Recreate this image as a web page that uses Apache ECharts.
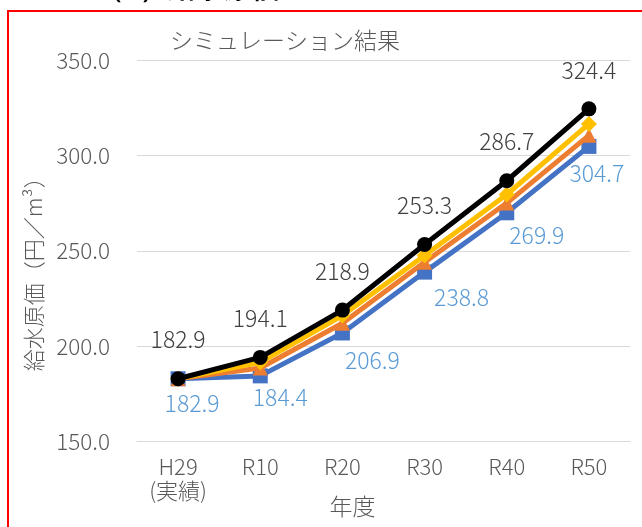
<!DOCTYPE html>
<html><head><meta charset="utf-8">
<script src="https://cdn.jsdelivr.net/npm/echarts@6/dist/echarts.min.js"></script>
<style>html,body{margin:0;padding:0;background:#fff}#c{width:642px;height:527px}</style>
</head><body><div id="c"></div>
<script>
var categories = ['H29\n(実績)', 'R10', 'R20', 'R30', 'R40', 'R50'];
var seriesNames = ['ケース1', 'ケース2', 'ケース3', 'ケース4'];
var blueValues = [182.9, 184.4, 206.9, 238.8, 269.9, 304.7];
var orangeValues = [182.9, 188.5, 212.0, 244.0, 275.0, 310.5];
var yellowValues = [182.9, 191.5, 216.0, 247.5, 279.5, 316.5];
var blackValues = [182.9, 194.1, 218.9, 253.3, 286.7, 324.4];
var yTicks = [150, 200, 250, 300, 350];

var blueLabelOffsets = [[14, 0], [20, -4], [30, 2], [37, 0], [30, -3], [8, 2]];

var font = '"Noto Sans CJK JP", "Noto Sans", sans-serif';
var chart = echarts.init(document.getElementById('c'), null, {renderer: 'canvas'});

function mk(name, vals, color, symbol, size, z) {
  return {
    name: name, type: 'line', data: vals, color: color,
    symbol: symbol, symbolSize: size, showAllSymbol: true, z: z,
    lineStyle: {color: color, width: 5},
    itemStyle: {color: color},
    emphasis: {disabled: true}
  };
}

var sBlue = mk(seriesNames[0], blueValues.map(function (v, i) {
  return {value: v, label: {show: true, position: 'bottom', distance: 6, offset: blueLabelOffsets[i]}};
}), '#4472C4', 'rect', 15, 2);
sBlue.label = {color: '#5B9BD5', fontSize: 23, fontWeight: 300, fontFamily: font};
var sOrange = mk(seriesNames[1], orangeValues, '#ED7D31', 'triangle', 15, 3);
var sYellow = mk(seriesNames[2], yellowValues, '#FFC000', 'diamond', 16, 4);
var sBlack = mk(seriesNames[3], blackValues, '#000000', 'circle', 15, 5);
sBlack.label = {show: true, position: 'top', distance: 20, color: '#404040', fontSize: 23, fontWeight: 300, fontFamily: font};

chart.setOption({
  animation: false,
  backgroundColor: '#fff',
  textStyle: {fontFamily: font},
  title: {
    text: 'シミュレーション結果', left: 280, top: 24, textAlign: 'center',
    textStyle: {fontSize: 23, fontWeight: 300, color: '#595959', fontFamily: font}
  },
  graphic: [
    {type: 'rect', shape: {x: 8, y: 11, width: 700, height: 600}, style: {fill: 'none', stroke: '#FF0000', lineWidth: 2}, z: 100},
    {type: 'text', x: 96, y: 3, style: {text: '（1）給水原価', fontSize: 28, fontWeight: 'bold', fill: '#000', textVerticalAlign: 'bottom', font: 'bold 28px "Noto Sans CJK JP"'}}
  ],
  grid: {left: 137, right: 12, top: 60, bottom: 85.5, containLabel: false, outerBoundsMode: 'none'},
  xAxis: {
    type: 'category', data: categories, boundaryGap: true,
    axisLine: {show: true, lineStyle: {color: '#d9d9d9', width: 1}},
    axisTick: {show: false},
    axisLabel: {color: '#595959', fontSize: 22, fontWeight: 300, fontFamily: font, margin: 13, lineHeight: 24},
    name: '年度', nameLocation: 'middle', nameGap: 53, nameMoveOverlap: false,
    nameTextStyle: {color: '#595959', fontSize: 23, fontWeight: 300, fontFamily: font, padding: [0, 62, 0, 0]}
  },
  yAxis: {
    type: 'value', min: yTicks[0], max: yTicks[yTicks.length - 1], interval: 50,
    axisLine: {show: false}, axisTick: {show: false},
    splitLine: {lineStyle: {color: '#d9d9d9', width: 1}},
    axisLabel: {color: '#595959', fontSize: 22.5, fontWeight: 300, fontFamily: font, margin: 27,
      formatter: function (v) { return v.toFixed(1); }},
    name: '給水原価（円／m³）', nameLocation: 'middle', nameGap: 92, nameRotate: 90, nameMoveOverlap: false,
    nameTextStyle: {color: '#595959', fontSize: 22, fontWeight: 300, fontFamily: font, padding: [0, 36, 0, 0]}
  },
  series: [sBlue, sOrange, sYellow, sBlack]
});
</script></body></html>
